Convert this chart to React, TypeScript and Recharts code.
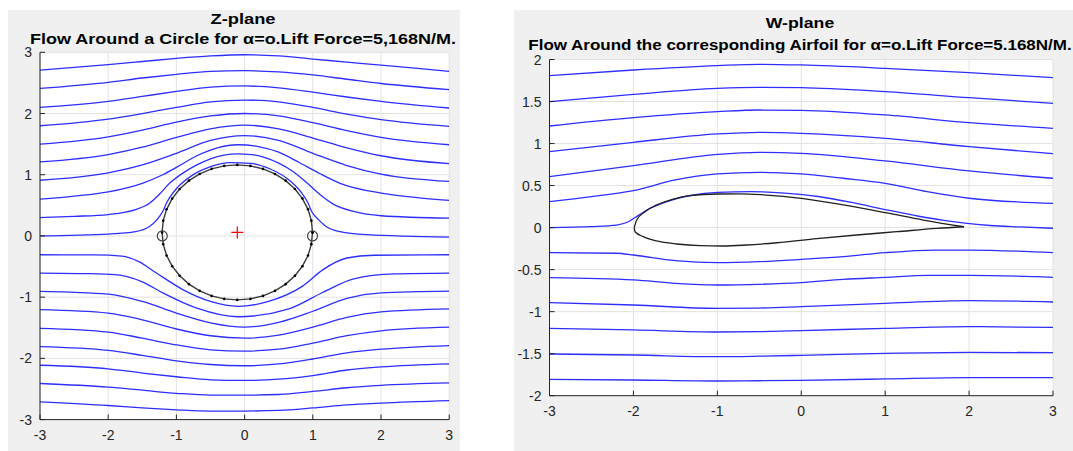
import React from 'react';
import { LineChart, Line, XAxis, YAxis, CartesianGrid } from 'recharts';

type P = { x: number; y: number };
const pts = (xs: number[], ys: number[]): P[] => xs.map((x, i) => ({ x, y: ys[i] }));

// ---------- Z-plane (left) ----------
const zXTicks = [-3, -2, -1, 0, 1, 2, 3];
const zYTicks = [-3, -2, -1, 0, 1, 2, 3];
const zXs = [-3, -2, -1.5, -1, -0.5, 0, 0.5, 1, 1.5, 2, 3];

const zL1 = [2.71, 2.8, 2.85, 2.9, 2.94, 2.96, 2.94, 2.89, 2.84, 2.79, 2.69];
const zL2 = [2.41, 2.51, 2.58, 2.64, 2.69, 2.7, 2.68, 2.63, 2.56, 2.49, 2.39];
const zL3 = [2.1, 2.2, 2.28, 2.36, 2.43, 2.45, 2.42, 2.35, 2.27, 2.2, 2.09];
const zL4 = [1.8, 1.91, 2.0, 2.1, 2.19, 2.22, 2.19, 2.1, 1.99, 1.9, 1.79];
const zL5 = [1.5, 1.62, 1.73, 1.86, 1.96, 2.0, 1.96, 1.85, 1.72, 1.61, 1.49];
const zL6 = [1.21, 1.33, 1.45, 1.61, 1.75, 1.81, 1.75, 1.6, 1.44, 1.31, 1.18];
const zL7 = [0.91, 1.03, 1.16, 1.35, 1.56, 1.64, 1.56, 1.35, 1.15, 1.01, 0.89];

const zL8X = [-3, -2.5, -2, -1.5, -1.2, -1, -0.7, -0.4, -0.1, 0.2, 0.5, 0.8, 1.1, 1.4, 2, 2.5, 3];
const zL8Y = [0.6, 0.65, 0.72, 0.86, 1.0, 1.12, 1.31, 1.44, 1.49, 1.46, 1.37, 1.2, 1.02, 0.86, 0.7, 0.63, 0.58];

const zL9X = [-3, -2.5, -2, -1.6, -1.4, -1.25, -1.1, -0.9, -0.7, -0.5, -0.3, -0.1, 0.1, 0.3, 0.5, 0.7, 0.9, 1.1, 1.3, 1.6, 2, 3];
const zL9Y = [0.3, 0.32, 0.35, 0.43, 0.53, 0.68, 0.86, 1.03, 1.16, 1.26, 1.32, 1.34, 1.33, 1.28, 1.19, 1.06, 0.88, 0.68, 0.52, 0.4, 0.33, 0.29];

const zL10X = [-3, -2, -1.6, -1.4, -1.28, -1.191, -1.143, -1.097, -0.983, -0.763, -0.498, -0.207, 0.091, 0.376, 0.628, 0.829, 0.929, 0.984, 1.08, 1.2, 1.4, 1.8, 3];
const zL10Y = [0.0, 0.03, 0.07, 0.15, 0.27, 0.42, 0.541, 0.63, 0.793, 0.994, 1.132, 1.197, 1.184, 1.094, 0.934, 0.714, 0.541, 0.4, 0.27, 0.15, 0.07, 0.02, -0.02];

const zL11X = [-3, -2.2, -1.8, -1.55, -1.3, -0.9, -0.5, -0.1, 0.35, 0.85, 1.15, 1.5, 1.9, 3];
const zL11Y = [-0.307, -0.31, -0.33, -0.42, -0.6, -0.88, -1.07, -1.15, -1.07, -0.82, -0.55, -0.36, -0.315, -0.307];

const zL12X = [-3, -2.3, -1.9, -1.5, -1.2, -0.7, -0.1, 0.65, 1.15, 1.6, 2.2, 3];
const zL12Y = [-0.606, -0.615, -0.633, -0.75, -0.93, -1.18, -1.32, -1.19, -0.92, -0.7, -0.62, -0.606];

const zL13 = [-0.905, -0.95, -1.07, -1.26, -1.42, -1.49, -1.41, -1.23, -1.02, -0.93, -0.9];
const zL14 = [-1.204, -1.26, -1.37, -1.52, -1.63, -1.67, -1.62, -1.49, -1.33, -1.24, -1.19];
const zL15 = [-1.509, -1.57, -1.67, -1.78, -1.86, -1.88, -1.85, -1.75, -1.63, -1.55, -1.49];
const zL16 = [-1.808, -1.87, -1.95, -2.04, -2.1, -2.12, -2.09, -2.01, -1.91, -1.85, -1.79];
const zL17 = [-2.112, -2.17, -2.24, -2.3, -2.35, -2.36, -2.34, -2.28, -2.19, -2.14, -2.09];
const zL18 = [-2.41, -2.47, -2.52, -2.57, -2.6, -2.6, -2.59, -2.54, -2.48, -2.44, -2.4];
const zL19 = [-2.71, -2.77, -2.81, -2.84, -2.86, -2.86, -2.85, -2.81, -2.76, -2.73, -2.69];

// circle outline (10 deg steps)
const circleX = [0.996, 0.979, 0.93, 0.848, 0.738, 0.602, 0.445, 0.27, 0.085, -0.107, -0.299, -0.484, -0.659, -0.816, -0.952, -1.062, -1.144, -1.193, -1.21, -1.193, -1.144, -1.062, -0.952, -0.816, -0.659, -0.484, -0.299, -0.107, 0.085, 0.27, 0.445, 0.602, 0.738, 0.848, 0.93, 0.979, 0.996];
const circleY = [0.058, 0.25, 0.435, 0.61, 0.767, 0.903, 1.013, 1.095, 1.144, 1.161, 1.144, 1.095, 1.013, 0.903, 0.767, 0.61, 0.435, 0.25, 0.058, -0.134, -0.319, -0.494, -0.651, -0.787, -0.897, -0.979, -1.028, -1.045, -1.028, -0.979, -0.897, -0.787, -0.651, -0.494, -0.319, -0.134, 0.058];

const stagnation = [{ x: -1.207, y: 0.0 }, { x: 0.996, y: 0.0 }];
const centerMark = [{ x: -0.107, y: 0.058 }];

// ---------- W-plane (right) ----------
const wXTicks = [-3, -2, -1, 0, 1, 2, 3];
const wYTicks = [-2, -1.5, -1, -0.5, 0, 0.5, 1, 1.5, 2];
const wXs = [-3, -2, -1, -0.5, 0, 1, 2, 3];

const wA = [1.808, 1.875, 1.927, 1.943, 1.935, 1.895, 1.843, 1.784];
const wB = [1.498, 1.585, 1.657, 1.669, 1.665, 1.617, 1.546, 1.479];
const wC = [1.209, 1.308, 1.379, 1.399, 1.395, 1.34, 1.249, 1.181];
const wD = [0.904, 1.015, 1.114, 1.134, 1.122, 1.062, 0.963, 0.88];
const wE = [0.606, 0.737, 0.872, 0.896, 0.884, 0.793, 0.674, 0.587];

const wFX = [-3, -2.5, -2, -1.5, -1, -0.5, 0, 0.5, 1, 1.5, 2, 3];
const wFY = [0.309, 0.368, 0.44, 0.567, 0.638, 0.658, 0.638, 0.587, 0.527, 0.428, 0.349, 0.289];

const wGX = [-3, -2.5, -2.2, -2.06, -1.95, -1.82, -1.6, -1.3, -1.0, -0.6, -0.2, 0.2, 0.6, 1.0, 1.4, 1.7, 1.95, 2.25, 2.6, 3];
const wGY = [0.0, 0.012, 0.03, 0.07, 0.14, 0.22, 0.31, 0.385, 0.418, 0.428, 0.41, 0.37, 0.3, 0.215, 0.135, 0.085, 0.052, 0.025, 0.008, -0.008];

const wHX = [-3, -2.2, -2, -1.5, -1, -0.5, 0, 0.5, 1, 1.6, 2, 3];
const wHY = [-0.298, -0.305, -0.326, -0.393, -0.417, -0.405, -0.378, -0.346, -0.298, -0.267, -0.267, -0.298];

const wIX = [-3, -2, -1.5, -1, -0.5, 0, 0.5, 1, 1.5, 2, 3];
const wIY = [-0.596, -0.623, -0.663, -0.683, -0.675, -0.655, -0.616, -0.592, -0.568, -0.568, -0.592];

const wJ = [-0.893, -0.921, -0.961, -0.957, -0.941, -0.901, -0.869, -0.885];
const wK = [-1.198, -1.218, -1.242, -1.238, -1.226, -1.198, -1.179, -1.187];
const wL = [-1.504, -1.516, -1.536, -1.53, -1.52, -1.496, -1.484, -1.488];
const wM = [-1.805, -1.813, -1.825, -1.822, -1.817, -1.801, -1.785, -1.785];

const foilUpX = [-1.99, -1.961, -1.862, -1.722, -1.524, -1.325, -0.988, -0.729, -0.452, 0.025, 0.502, 1.019, 1.455, 1.94];
const foilUpY = [0.0, 0.09, 0.19, 0.27, 0.34, 0.38, 0.4, 0.402, 0.39, 0.345, 0.27, 0.175, 0.09, 0.01];
const foilLoX = [-1.99, -1.981, -1.882, -1.722, -1.484, -1.206, -0.928, -0.65, -0.292, 0.185, 0.661, 1.138, 1.615, 1.94];
const foilLoY = [0.0, -0.049, -0.108, -0.159, -0.195, -0.215, -0.219, -0.207, -0.18, -0.132, -0.088, -0.049, -0.009, 0.01];

// ---------- styling ----------
const FONT = '"Liberation Sans", Arial, Helvetica, sans-serif';
const AXIS = '#262626';
const BLUE = '#2e2eff';
const GRID = '#e2e2e2';
const TICK_M = 6;

const XTick = (props: any) => {
  const { x, y, payload } = props;
  return (
    <g>
      <line x1={x} x2={x} y1={y - TICK_M} y2={y - TICK_M - 5} stroke={AXIS} strokeWidth={1} />
      <text x={x} y={y + 14} textAnchor="middle" fill={AXIS} fontSize={14} fontFamily={FONT}>
        {payload.value}
      </text>
    </g>
  );
};

const YTick = (props: any) => {
  const { x, y, payload } = props;
  return (
    <g>
      <line x1={x + TICK_M} x2={x + TICK_M + 5} y1={y} y2={y} stroke={AXIS} strokeWidth={1} />
      <text x={x - 2} y={y + 5} textAnchor="end" fill={AXIS} fontSize={14} fontFamily={FONT}>
        {payload.value}
      </text>
    </g>
  );
};

const stagDot = (p: any) => (
  <circle key={`s${p.index}`} cx={p.cx} cy={p.cy} r={5} fill="none" stroke="#444" strokeWidth={1.2} />
);
const crossDot = (p: any) => (
  <path
    key={`c${p.index}`}
    d={`M${p.cx - 6},${p.cy}H${p.cx + 6}M${p.cx},${p.cy - 6}V${p.cy + 6}`}
    stroke="#ff0000"
    strokeWidth={1.2}
    fill="none"
  />
);

const stream = (data: P[], key: string) => (
  <Line
    key={key}
    data={data}
    dataKey="y"
    type="monotone"
    stroke={BLUE}
    strokeWidth={1.3}
    dot={false}
    activeDot={false}
    isAnimationActive={false}
  />
);

const zStreams: P[][] = [
  pts(zXs, zL1), pts(zXs, zL2), pts(zXs, zL3), pts(zXs, zL4), pts(zXs, zL5), pts(zXs, zL6), pts(zXs, zL7),
  pts(zL8X, zL8Y), pts(zL9X, zL9Y), pts(zL10X, zL10Y), pts(zL11X, zL11Y), pts(zL12X, zL12Y),
  pts(zXs, zL13), pts(zXs, zL14), pts(zXs, zL15), pts(zXs, zL16), pts(zXs, zL17), pts(zXs, zL18), pts(zXs, zL19),
];

const wStreams: P[][] = [
  pts(wXs, wA), pts(wXs, wB), pts(wXs, wC), pts(wXs, wD), pts(wXs, wE),
  pts(wFX, wFY), pts(wGX, wGY), pts(wHX, wHY), pts(wIX, wIY),
  pts(wXs, wJ), pts(wXs, wK), pts(wXs, wL), pts(wXs, wM),
];

const titleStyle = (center: number, top: number, size: number, sx: number): React.CSSProperties => ({
  position: 'absolute',
  left: center - 400,
  top,
  width: 800,
  textAlign: 'center',
  fontFamily: FONT,
  fontWeight: 'bold',
  fontSize: size,
  lineHeight: '16px',
  color: '#000',
  whiteSpace: 'nowrap',
  transform: `scaleX(${sx})`,
  transformOrigin: '50% 50%',
});

export default function App() {
  return (
    <div style={{ position: 'absolute', left: 0, top: 0, width: 1073, height: 451, background: '#fff', overflow: 'hidden' }}>
      {/* Left panel */}
      <div style={{ position: 'absolute', left: 8, top: 10, width: 452, height: 441, background: '#f0f0f0' }}>
        <LineChart width={452} height={441} margin={{ top: 42.3, right: 10.8, bottom: 1.4, left: 2 }}>
          <CartesianGrid stroke={GRID} fill="#ffffff" />
          <XAxis
            type="number"
            dataKey="x"
            domain={[-3, 3]}
            ticks={zXTicks}
            allowDataOverflow
            height={30}
            tickSize={0}
            tickMargin={TICK_M}
            tick={XTick}
            axisLine={{ stroke: AXIS, strokeWidth: 1 }}
          />
          <YAxis
            type="number"
            domain={[-3, 3]}
            ticks={zYTicks}
            allowDataOverflow
            width={30}
            tickSize={0}
            tickMargin={TICK_M}
            tick={YTick}
            axisLine={{ stroke: AXIS, strokeWidth: 1 }}
          />
          {zStreams.map((d, i) => stream(d, `z${i}`))}
          <Line
            data={pts(circleX, circleY)}
            dataKey="y"
            type="linear"
            stroke="#3a3a3a"
            strokeWidth={1.4}
            dot={{ r: 1.3, fill: '#000', stroke: 'none' }}
            activeDot={false}
            isAnimationActive={false}
          />
          <Line data={stagnation} dataKey="y" stroke="none" dot={stagDot} activeDot={false} isAnimationActive={false} />
          <Line data={centerMark} dataKey="y" stroke="none" dot={crossDot} activeDot={false} isAnimationActive={false} />
        </LineChart>
      </div>

      {/* Right panel */}
      <div style={{ position: 'absolute', left: 514, top: 10, width: 559, height: 441, background: '#f0f0f0' }}>
        <LineChart width={559} height={441} margin={{ top: 49.5, right: 20, bottom: 25.3, left: 2.5 }}>
          <CartesianGrid stroke={GRID} fill="#ffffff" />
          <XAxis
            type="number"
            dataKey="x"
            domain={[-3, 3]}
            ticks={wXTicks}
            allowDataOverflow
            height={30}
            tickSize={0}
            tickMargin={TICK_M}
            tick={XTick}
            axisLine={{ stroke: AXIS, strokeWidth: 1 }}
          />
          <YAxis
            type="number"
            domain={[-2, 2]}
            ticks={wYTicks}
            allowDataOverflow
            width={33}
            tickSize={0}
            tickMargin={TICK_M}
            tick={YTick}
            axisLine={{ stroke: AXIS, strokeWidth: 1 }}
          />
          {wStreams.map((d, i) => stream(d, `w${i}`))}
          <Line data={pts(foilUpX, foilUpY)} dataKey="y" type="monotone" stroke="#202020" strokeWidth={1.3} dot={false} activeDot={false} isAnimationActive={false} />
          <Line data={pts(foilLoX, foilLoY)} dataKey="y" type="monotone" stroke="#202020" strokeWidth={1.3} dot={false} activeDot={false} isAnimationActive={false} />
        </LineChart>
      </div>

      {/* Titles */}
      <div style={titleStyle(243, 11, 15, 1.22)}>Z-plane</div>
      <div style={titleStyle(243, 30.5, 14.3, 1.257)}>Flow Around a Circle for α=o.Lift Force=5,168N/M.</div>
      <div style={titleStyle(800, 14.5, 15, 1.18)}>W-plane</div>
      <div style={titleStyle(800, 37, 14.3, 1.188)}>Flow Around the corresponding Airfoil for α=o.Lift Force=5.168N/M.</div>
    </div>
  );
}
